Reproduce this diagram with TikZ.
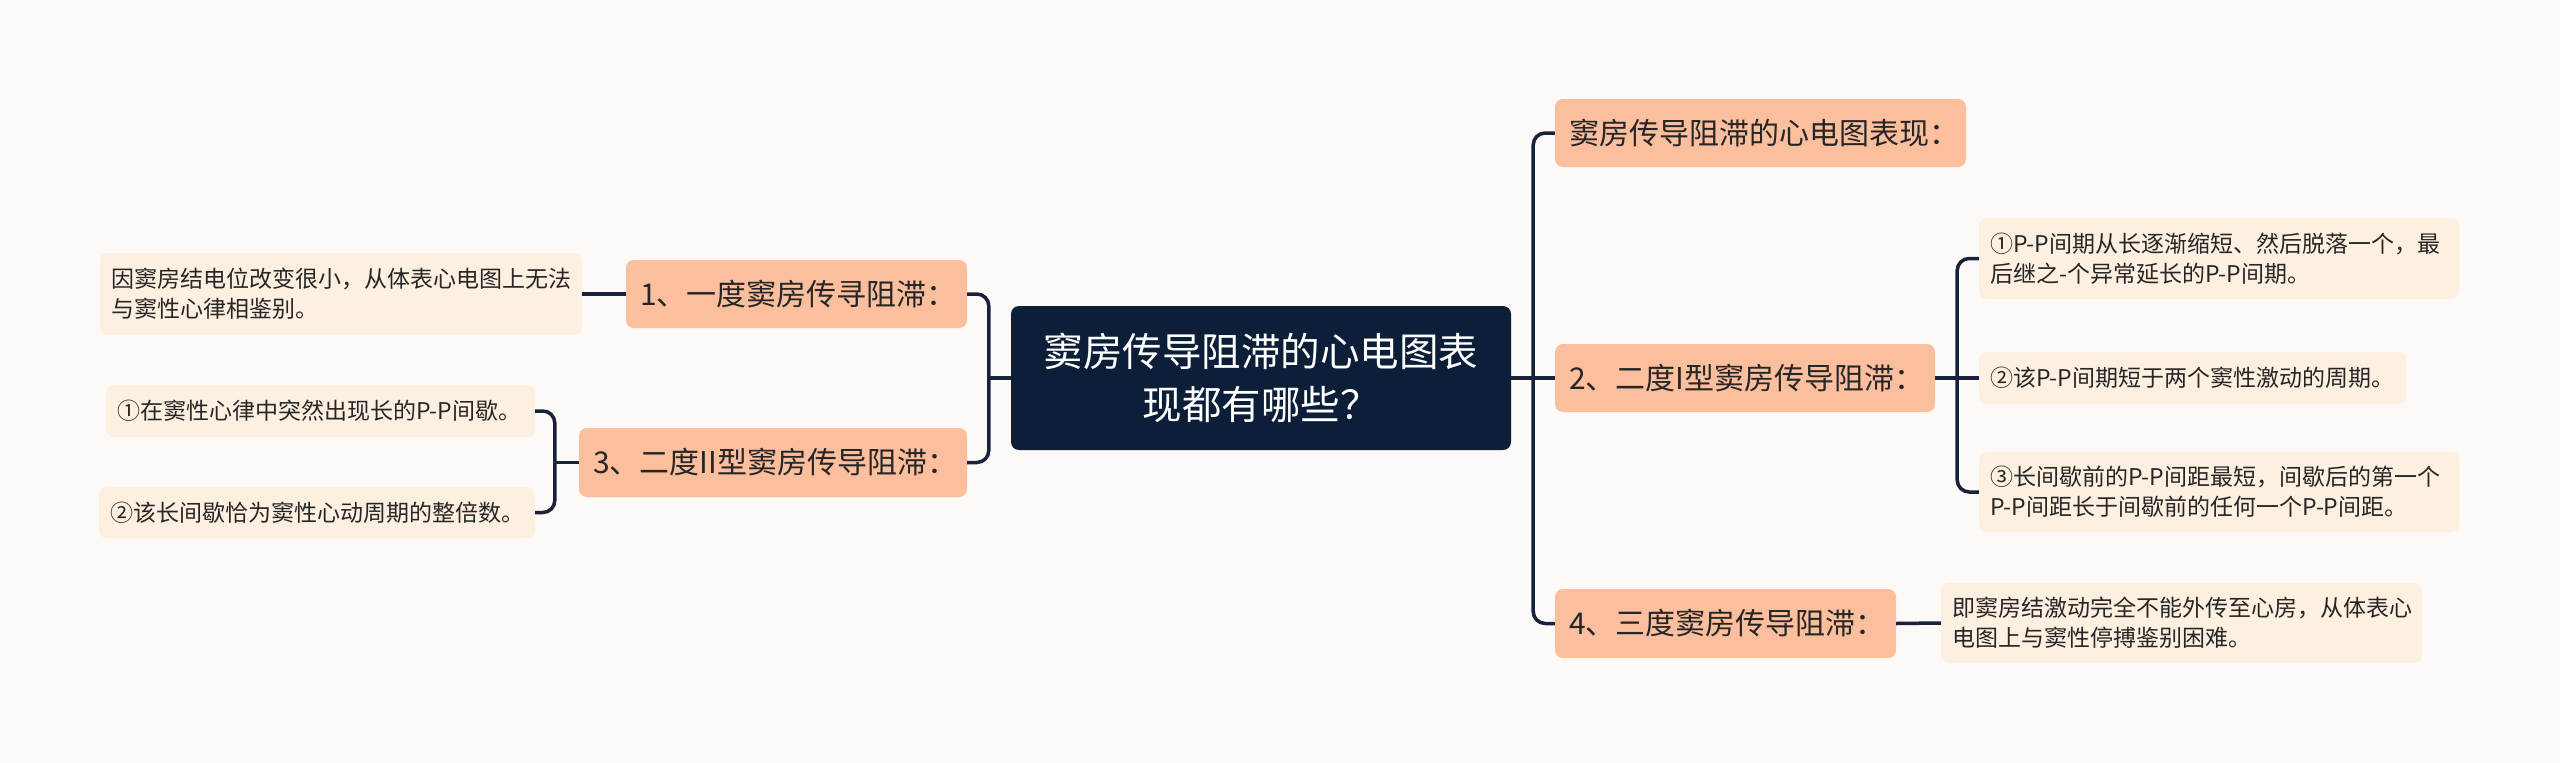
\documentclass[tikz,border=0pt]{standalone}
\usepackage{fontspec}
\setmainfont{Noto Sans CJK SC}
\setlength\parindent{0pt}
\definecolor{bgc}{HTML}{FDF9F7}
\definecolor{rootc}{HTML}{0D1E38}
\definecolor{brc}{HTML}{FCBF9E}
\definecolor{leafc}{HTML}{FEF0E1}
\definecolor{linec}{HTML}{18223A}
\definecolor{txtc}{HTML}{262626}
\begin{document}
\begin{tikzpicture}[x=1pt,y=-1pt,
  rootbox/.style={fill=rootc, rounded corners=8pt, text=white, font=\fontsize{39.5}{53}\selectfont, align=center, minimum width=500pt, minimum height=144pt, inner sep=0pt},
  branchbox/.style={fill=brc, rounded corners=8pt, text=txtc, font=\fontsize{30}{36}\selectfont, align=left, inner xsep=14pt, inner ysep=0pt},
  leafbox/.style={fill=leafc, rounded corners=8pt, text=txtc, font=\fontsize{23}{30}\selectfont, align=left, inner xsep=11pt, inner ysep=0pt},
  conn/.style={draw=linec, line width=3.5pt, rounded corners=12pt}
]
\fill[bgc] (0,0) rectangle (2560,763);
\useasboundingbox (0,0) rectangle (2560,763);

\node[rootbox] (c) at (1261,378) {窦房传导阻滞的心电图表\\现都有哪些？};

% left side
\node[branchbox, text width=313pt, minimum height=68pt] (b1) at (796.5,294) {1、一度窦房传寻阻滞：};
\node[branchbox, text width=360pt, minimum height=69pt] (b3) at (773,462.5) {3、二度II型窦房传导阻滞：};
\node[leafbox, text width=460pt, minimum height=82pt] (l1) at (341,294) {因窦房结电位改变很小，从体表心电图上无法\\与窦性心律相鉴别。};
\node[leafbox, text width=407pt, minimum height=52pt] (l3a) at (320.5,411) {①在窦性心律中突然出现长的P-P间歇。};
\node[leafbox, text width=414pt, minimum height=51pt] (l3b) at (317,512.5) {②该长间歇恰为窦性心动周期的整倍数。};

% right side
\node[branchbox, text width=383pt, minimum height=68pt] (r0) at (1760.5,133) {窦房传导阻滞的心电图表现：};
\node[branchbox, text width=352pt, minimum height=68pt] (b2) at (1745,378) {2、二度I型窦房传导阻滞：};
\node[branchbox, text width=313pt, minimum height=69pt] (b4) at (1725.5,623.5) {4、三度窦房传导阻滞：};
\node[leafbox, text width=458pt, minimum height=81pt] (l2a) at (2219,258.5) {①P-P间期从长逐渐缩短、然后脱落一个，最\\后继之-个异常延长的P-P间期。};
\node[leafbox, text width=405pt, minimum height=52pt] (l2b) at (2192.5,378) {②该P-P间期短于两个窦性激动的周期。};
\node[leafbox, text width=458pt, minimum height=80pt] (l2c) at (2219,492) {③长间歇前的P-P间距最短，间歇后的第一个\\P-P间距长于间歇前的任何一个P-P间距。};
\node[leafbox, text width=459pt, minimum height=80pt] (l4) at (2181.5,623) {即窦房结激动完全不能外传至心房，从体表心\\电图上与窦性停搏鉴别困难。};

% trunk coordinates
\coordinate (tL) at ([xshift=-22pt]c.west);
\coordinate (tR) at ([xshift=22pt]c.east);
\coordinate (t3) at ([xshift=-24pt]b3.west);
\coordinate (t2) at ([xshift=22pt]b2.east);

% connectors
\draw[conn] (c.west) -- (tL);
\draw[conn] (tL) |- (b1.east);
\draw[conn] (tL) |- (b3.east);
\draw[conn] (b1.west) -- (l1.east);
\draw[conn] (b3.west) -- (t3);
\draw[conn] (t3) |- (l3a.east);
\draw[conn] (t3) |- (l3b.east);

\draw[conn] (c.east) -- (b2.west);
\draw[conn] (tR) |- (r0.west);
\draw[conn] (tR) |- (b4.west);
\draw[conn] (b2.east) -- (l2b.west);
\draw[conn] (t2) |- (l2a.west);
\draw[conn] (t2) |- (l2c.west);
\draw[conn] (b4.east) -- (l4.west);
\end{tikzpicture}
\end{document}
